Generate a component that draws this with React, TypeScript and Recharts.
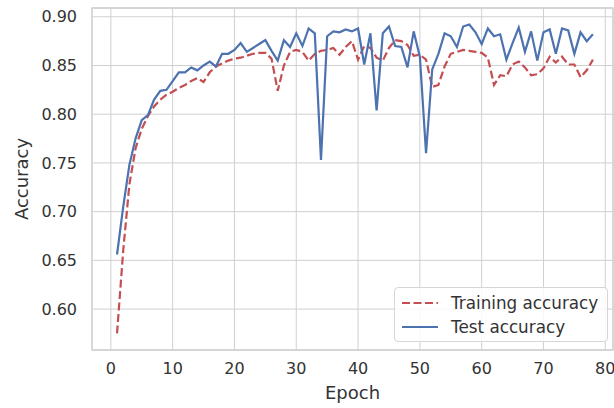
import { LineChart, Line, XAxis, YAxis, CartesianGrid, Legend, ReferenceArea } from 'recharts';

const epochs = Array.from({ length: 78 }, (_, i) => i + 1);

const trainAcc = [
  0.575, 0.66, 0.728, 0.765, 0.785, 0.798, 0.808, 0.815, 0.82, 0.823,
  0.827, 0.83, 0.834, 0.837, 0.833, 0.843, 0.849, 0.852, 0.855, 0.857,
  0.858, 0.86, 0.862, 0.863, 0.863, 0.857, 0.824, 0.85, 0.864, 0.866,
  0.864, 0.855, 0.862, 0.865, 0.866, 0.868, 0.861, 0.869, 0.875, 0.856,
  0.87, 0.868, 0.858, 0.855, 0.868, 0.876, 0.875, 0.871, 0.86, 0.861,
  0.856, 0.828, 0.83, 0.849, 0.862, 0.864, 0.866, 0.865, 0.864, 0.863,
  0.858, 0.83, 0.84, 0.839, 0.851, 0.854, 0.848, 0.84, 0.841, 0.847,
  0.859, 0.853, 0.859, 0.851, 0.851, 0.838, 0.845, 0.856,
];

const testAcc = [
  0.656, 0.705, 0.748, 0.775, 0.794, 0.799, 0.815, 0.824, 0.825, 0.834,
  0.843, 0.843, 0.848, 0.845, 0.85, 0.854, 0.849, 0.862, 0.862, 0.866,
  0.873, 0.864, 0.868, 0.872, 0.876, 0.865, 0.855, 0.876, 0.869, 0.883,
  0.87, 0.888, 0.883, 0.753, 0.88, 0.885, 0.884, 0.887, 0.885, 0.888,
  0.851, 0.883, 0.804, 0.883, 0.89, 0.87, 0.869, 0.848, 0.885, 0.859,
  0.76, 0.846, 0.862, 0.883, 0.88, 0.869, 0.89, 0.892, 0.884, 0.872,
  0.888, 0.88, 0.882, 0.856, 0.873, 0.889, 0.864, 0.885, 0.855, 0.884,
  0.887, 0.862, 0.888, 0.886, 0.862, 0.884, 0.875, 0.882,
];

const seriesNames = ['Training accuracy', 'Test accuracy'];
const xTicks = [0, 10, 20, 30, 40, 50, 60, 70, 80];
const yTicks = [0.6, 0.65, 0.7, 0.75, 0.8, 0.85, 0.9];

const data = epochs.map((epoch, i) => ({ epoch, train: trainAcc[i], test: testAcc[i] }));

const FONT = '"DejaVu Sans", sans-serif';
const TEXT = '#333333';
const GRID = '#d0d0d0';
const X_DOMAIN = [-3.05, 81.25];
const Y_DOMAIN = [0.558, 0.909];

function LegendBox({ payload }: { payload?: any[] }) {
  if (!payload?.length) return null;
  // keep the plotting order, not the alphabetical one
  const items = [...payload].sort(
    (a, b) => seriesNames.indexOf(a.value) - seriesNames.indexOf(b.value)
  );
  return (
    <div
      style={{
        background: 'rgba(255,255,255,0.85)',
        border: '1px solid #d6d6d6',
        borderRadius: 4,
        padding: '3px 9px 2px 6px',
        fontFamily: FONT,
        fontSize: 16.8,
        color: TEXT,
      }}
    >
      {items.map((item) => (
        <div key={item.value} style={{ display: 'flex', alignItems: 'center', height: 24 }}>
          <svg width={38} height={10} style={{ marginRight: 12 }}>
            <line
              x1={1}
              y1={5}
              x2={37}
              y2={5}
              stroke={item.color}
              strokeWidth={2.2}
              strokeDasharray={item.payload?.strokeDasharray}
            />
          </svg>
          <span>{item.value}</span>
        </div>
      ))}
    </div>
  );
}

export default function App() {
  return (
    <div style={{ width: 614, height: 408, background: '#fff' }}>
      <style>{'body{margin:0}'}</style>
      <LineChart
        width={614}
        height={408}
        data={data}
        margin={{ top: 8, right: 1, left: 0, bottom: 0 }}
      >
        <CartesianGrid stroke={GRID} strokeWidth={1} />
        <ReferenceArea
          x1={X_DOMAIN[0]}
          x2={X_DOMAIN[1]}
          y1={Y_DOMAIN[0]}
          y2={Y_DOMAIN[1]}
          fill="none"
          stroke={GRID}
          strokeWidth={1.3}
          ifOverflow="visible"
        />
        <XAxis
          dataKey="epoch"
          type="number"
          domain={X_DOMAIN}
          allowDataOverflow
          ticks={xTicks}
          height={58}
          tickSize={0}
          tickMargin={13}
          axisLine={false}
          tick={{ fill: TEXT, fontSize: 16, fontFamily: FONT }}
          label={{ value: 'Epoch', position: 'insideBottom', offset: 9, fill: TEXT, fontSize: 18, fontFamily: FONT }}
        />
        <YAxis
          type="number"
          domain={Y_DOMAIN}
          allowDataOverflow
          ticks={yTicks}
          width={92}
          tickSize={0}
          tickMargin={15}
          axisLine={false}
          tickFormatter={(v: number) => v.toFixed(2)}
          tick={{ fill: TEXT, fontSize: 16, fontFamily: FONT }}
          label={{
            value: 'Accuracy',
            angle: -90,
            position: 'insideLeft',
            offset: 22,
            fill: TEXT,
            fontSize: 18,
            fontFamily: FONT,
            style: { textAnchor: 'middle' },
          }}
        />
        <Line
          type="linear"
          dataKey="train"
          name={seriesNames[0]}
          stroke="#C44E52"
          strokeWidth={2.2}
          strokeDasharray="8 3.5"
          dot={false}
          isAnimationActive={false}
        />
        <Line
          type="linear"
          dataKey="test"
          name={seriesNames[1]}
          stroke="#4C72B0"
          strokeWidth={2.2}
          dot={false}
          isAnimationActive={false}
        />
        <Legend
          layout="vertical"
          align="center"
          verticalAlign="middle"
          content={<LegendBox />}
          wrapperStyle={{ left: 394, top: 287, width: 'auto' }}
        />
      </LineChart>
    </div>
  );
}
